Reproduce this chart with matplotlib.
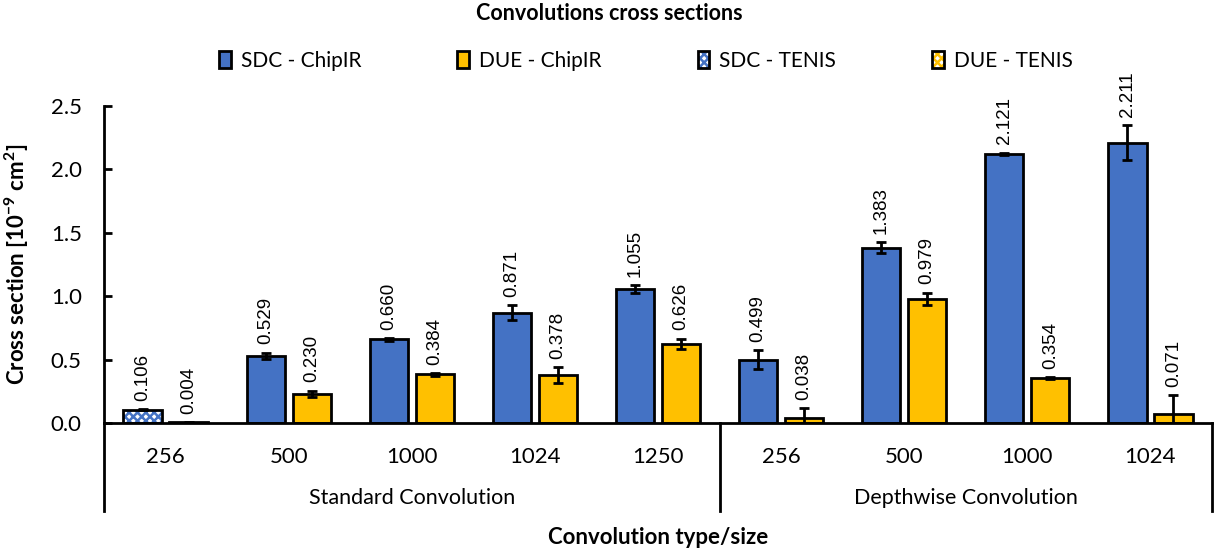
import numpy as np
import matplotlib
matplotlib.use("Agg")
import matplotlib.pyplot as plt
from matplotlib.patches import Patch
import matplotlib.transforms as mtransforms

# data
sizes = ["256", "500", "1000", "1024", "1250", "256", "500", "1000", "1024"]
groups = ["Standard Convolution", "Depthwise Convolution"]
group_len = [5, 4]
facility = ["TENIS", "ChipIR", "ChipIR", "ChipIR", "ChipIR",
            "ChipIR", "ChipIR", "ChipIR", "ChipIR"]
sdc = [0.106, 0.529, 0.660, 0.871, 1.055, 0.499, 1.383, 2.121, 2.211]
sdc_err = [0.005, 0.025, 0.010, 0.060, 0.030, 0.075, 0.045, 0.010, 0.140]
due = [0.004, 0.230, 0.384, 0.378, 0.626, 0.038, 0.979, 0.354, 0.071]
due_err = [0.002, 0.025, 0.010, 0.060, 0.040, 0.080, 0.048, 0.010, 0.150]

BLUE = "#4472C4"
YELLOW = "#FFC000"
ui_font = "Lato"
num_font = "Liberation Sans"

plt.rcParams["font.family"] = ui_font
plt.rcParams["hatch.linewidth"] = 1.8
plt.rcParams["mathtext.fontset"] = "custom"
plt.rcParams["mathtext.rm"] = ui_font
plt.rcParams["mathtext.bf"] = ui_font + ":bold"

W, H = 1214, 556
fig = plt.figure(figsize=(W / 100, H / 100), dpi=100)
ax = fig.add_axes([104 / W, 1 - 423 / H, (1212 - 104) / W, (423 - 106) / H])

x = np.arange(len(sizes))
bw = 0.31
off = 0.187
LW = 2.0


def draw_bars(xs, vals, errs, color, tenis):
    for xi, v, e, t in zip(xs, vals, errs, tenis):
        if t == "TENIS":
            ax.bar(xi, v, bw, facecolor="white", edgecolor=color, hatch="xxxx", linewidth=0, zorder=2)
            ax.bar(xi, v, bw, fill=False, edgecolor="black", linewidth=LW, zorder=3)
        else:
            ax.bar(xi, v, bw, color=color, edgecolor="black", linewidth=LW, zorder=2)
        ax.errorbar(xi, v, yerr=e, fmt="none", ecolor="black", elinewidth=LW,
                    capsize=3.5, capthick=LW, zorder=4)
        ax.annotate(f"{v:.3f}", (xi, v + e), xytext=(0, 6), textcoords="offset points",
                    rotation=90, ha="center", va="bottom", fontsize=13.5, family=num_font)


draw_bars(x - off, sdc, sdc_err, BLUE, facility)
draw_bars(x + off, due, due_err, YELLOW, facility)

ax.set_xlim(-0.5, len(sizes) - 0.5)
ax.set_ylim(0, 2.5)
ax.set_yticks(np.arange(0, 2.51, 0.5))
ax.set_yticklabels([f"{t:.1f}" for t in np.arange(0, 2.51, 0.5)])
ax.tick_params(axis="y", direction="in", length=6, width=LW, pad=16, labelsize=16)
ax.set_xticks(x)
ax.set_xticklabels(sizes)
ax.tick_params(axis="x", length=0, pad=17, labelsize=16)
for s in ["top", "right"]:
    ax.spines[s].set_visible(False)
for s in ["left", "bottom"]:
    ax.spines[s].set_linewidth(LW)

# multi-level category separators and group names
trans = mtransforms.blended_transform_factory(ax.transData, ax.transAxes)
low = (423 - 511) / (423 - 106)
edges = np.concatenate([[0], np.cumsum(group_len)]) - 0.5
for e in edges:
    ax.plot([e, e], [0, low], color="black", lw=LW, transform=trans, clip_on=False)
for g, a, b in zip(groups, edges[:-1], edges[1:]):
    ax.text((a + b) / 2, (423 - 498) / (423 - 106), g, transform=trans,
            ha="center", va="center", fontsize=15.5)

ax.set_ylabel(r"Cross section [10$^{\mathbf{-9}}$ cm$^{\mathbf{2}}$]", fontsize=16,
              fontweight="bold", labelpad=14)
fig.text(658 / W, 1 - 538 / H, "Convolution type/size", ha="center", va="center",
         fontsize=16, fontweight="bold")
fig.text(609 / W, 1 - 14 / H, "Convolutions cross sections", ha="center", va="center",
         fontsize=15.5, fontweight="bold")

# legend
handles = [
    Patch(facecolor=BLUE, edgecolor="black", linewidth=LW),
    Patch(facecolor=YELLOW, edgecolor="black", linewidth=LW),
    (Patch(facecolor="white", edgecolor=BLUE, hatch="xxxx", linewidth=0),
     Patch(fill=False, edgecolor="black", linewidth=LW)),
    (Patch(facecolor="white", edgecolor=YELLOW, hatch="xxxx", linewidth=0),
     Patch(fill=False, edgecolor="black", linewidth=LW)),
]
labels = ["SDC - ChipIR", "DUE - ChipIR", "SDC - TENIS", "DUE - TENIS"]
fig.legend(handles, labels, loc="center", bbox_to_anchor=(646 / W, 1 - 61 / H), ncol=4,
           frameon=False, fontsize=15, handlelength=0.55, handleheight=0.85,
           handletextpad=0.5, columnspacing=4.6)

fig.savefig("out.png", dpi=100)
